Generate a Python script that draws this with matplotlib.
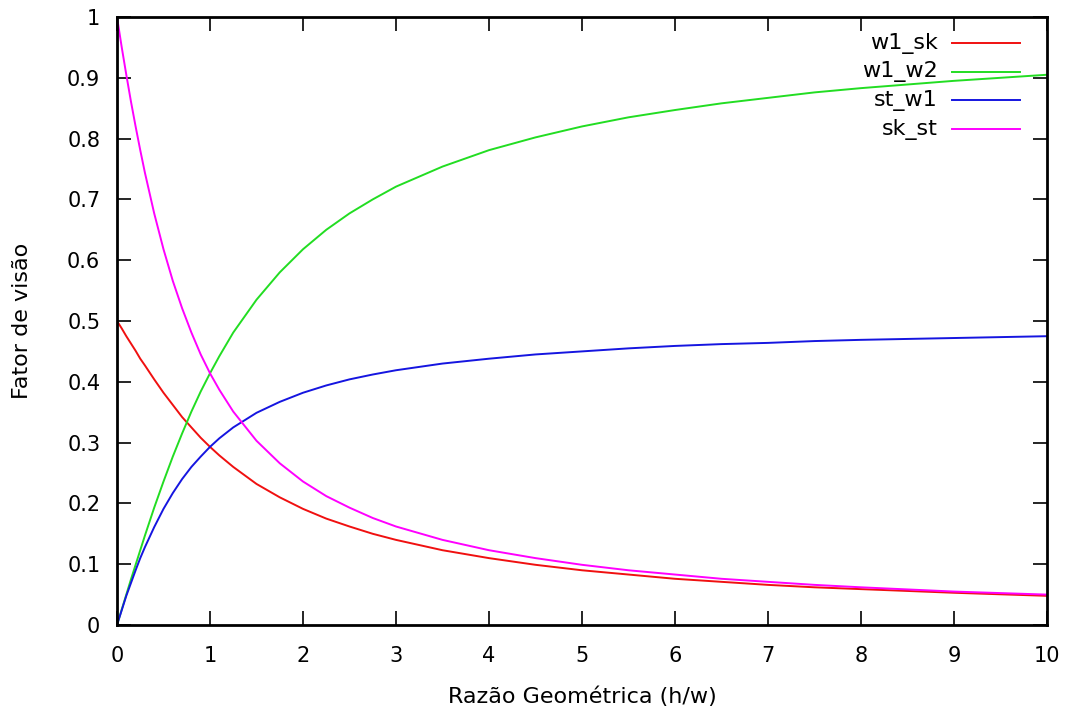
import numpy as np
import matplotlib
matplotlib.use('Agg')
import matplotlib.pyplot as plt

# h/w ratio samples
razao = [0, 0.05, 0.1, 0.15, 0.2, 0.25, 0.3, 0.4, 0.5, 0.6, 0.7, 0.8, 0.9, 1.0, 1.1,
         1.25, 1.5, 1.75, 2, 2.25, 2.5, 2.75, 3, 3.5, 4, 4.5, 5, 5.5, 6, 6.5, 7, 7.5,
         8, 9, 10]

w1_sk = [0.5, 0.488, 0.475, 0.463, 0.451, 0.438, 0.427, 0.404, 0.382, 0.362, 0.342, 0.325,
         0.308, 0.293, 0.279, 0.260, 0.232, 0.210, 0.191, 0.175, 0.162, 0.150, 0.140, 0.123,
         0.110, 0.099, 0.090, 0.083, 0.076, 0.071, 0.066, 0.062, 0.059, 0.053, 0.048]
w1_w2 = [0, 0.025, 0.050, 0.075, 0.099, 0.123, 0.147, 0.193, 0.236, 0.277, 0.315, 0.351,
         0.384, 0.414, 0.442, 0.481, 0.535, 0.580, 0.618, 0.650, 0.677, 0.700, 0.721, 0.754,
         0.781, 0.802, 0.820, 0.835, 0.847, 0.858, 0.867, 0.876, 0.883, 0.895, 0.905]
st_w1 = [0, 0.024, 0.048, 0.069, 0.090, 0.110, 0.128, 0.161, 0.191, 0.217, 0.240, 0.260,
         0.277, 0.293, 0.307, 0.325, 0.349, 0.367, 0.382, 0.394, 0.404, 0.412, 0.419, 0.430,
         0.438, 0.445, 0.450, 0.455, 0.459, 0.462, 0.464, 0.467, 0.469, 0.472, 0.475]
sk_st = [1.0, 0.951, 0.905, 0.861, 0.820, 0.781, 0.744, 0.677, 0.618, 0.566, 0.521, 0.481,
         0.445, 0.414, 0.387, 0.351, 0.303, 0.266, 0.236, 0.212, 0.193, 0.176, 0.162, 0.140,
         0.123, 0.110, 0.099, 0.090, 0.083, 0.076, 0.071, 0.066, 0.062, 0.055, 0.050]

nomes = ['w1_sk', 'w1_w2', 'st_w1', 'sk_st']
cores = ['#f01010', '#22dd22', '#1515e0', '#ff00ff']
series = [w1_sk, w1_w2, st_w1, sk_st]

fs = 15
fs2 = 16
fig = plt.figure(figsize=(10.68, 7.11), dpi=100)
ax = fig.add_axes([117/1068, 1-625/711, 930/1068, 608/711])

for y, c in zip(series, cores):
    ax.plot(razao, y, color=c, linewidth=1.4, zorder=2)

ax.set_xlim(0, 10)
ax.set_ylim(0, 1)
ax.set_xticks(range(0, 11))
yt = np.round(np.arange(0, 1.01, 0.1), 1)
ax.set_yticks(yt)
ax.set_yticklabels(['0'] + ['%.1f' % v for v in yt[1:-1]] + ['1'])
ax.tick_params(direction='in', length=10, width=1.2, top=True, right=True,
               labelsize=fs, colors='black')
ax.tick_params(axis='x', pad=15)
ax.tick_params(axis='y', pad=12)
for s in ax.spines.values():
    s.set_linewidth(2)

ax.set_xlabel('Razão Geométrica (h/w)', fontsize=fs2, va='center')
ax.set_ylabel('Fator de visão', fontsize=fs2, va='center')
ax.xaxis.set_label_coords(0.5, -(697-625)/608)
ax.yaxis.set_label_coords((22-117)/930, 0.5)

# gnuplot-style key: right-aligned labels, sample line on the right
for i, (n, c) in enumerate(zip(nomes, cores)):
    yk = (625 - 43 - 28.7*i) / 608
    ax.text((938-117)/930, yk, n, transform=ax.transAxes, ha='right', va='center',
            fontsize=fs2)
    ax.plot([(952-117)/930, (1020-117)/930], [yk, yk], color=c, linewidth=1.4,
            transform=ax.transAxes, clip_on=False)

plt.savefig('out.png', dpi=100)
